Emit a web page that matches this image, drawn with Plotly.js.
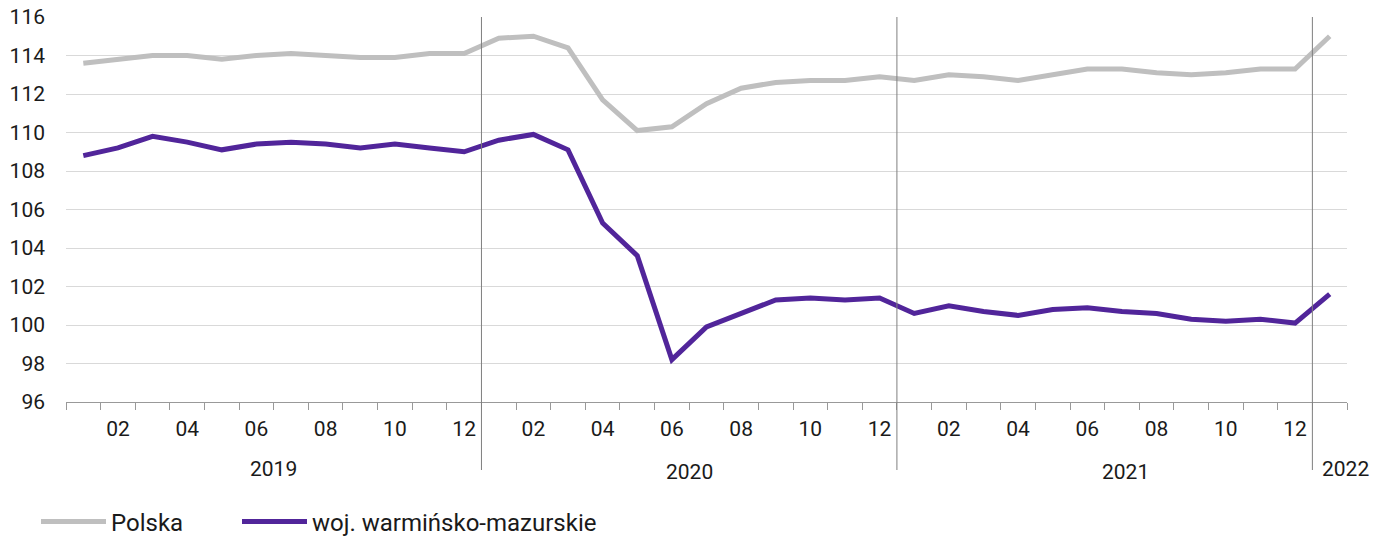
<!DOCTYPE html>
<html>
<head>
<meta charset="utf-8">
<script src="https://cdn.plot.ly/plotly-3.0.1.min.js"></script>
<style>
  html, body { margin: 0; padding: 0; background: #ffffff; }
  #chart { width: 1387px; height: 540px; }
</style>
</head>
<body>
<div id="chart"></div>
<script>
// ---- data ----
const months = [
  '2019-01','2019-02','2019-03','2019-04','2019-05','2019-06','2019-07','2019-08','2019-09','2019-10','2019-11','2019-12',
  '2020-01','2020-02','2020-03','2020-04','2020-05','2020-06','2020-07','2020-08','2020-09','2020-10','2020-11','2020-12',
  '2021-01','2021-02','2021-03','2021-04','2021-05','2021-06','2021-07','2021-08','2021-09','2021-10','2021-11','2021-12',
  '2022-01'
];
const polska = [
  113.6, 113.8, 114.0, 114.0, 113.8, 114.0, 114.1, 114.0, 113.9, 113.9, 114.1, 114.1,
  114.9, 115.0, 114.4, 111.7, 110.1, 110.3, 111.5, 112.3, 112.6, 112.7, 112.7, 112.9,
  112.7, 113.0, 112.9, 112.7, 113.0, 113.3, 113.3, 113.1, 113.0, 113.1, 113.3, 113.3,
  115.0
];
const warminskoMazurskie = [
  108.8, 109.2, 109.8, 109.5, 109.1, 109.4, 109.5, 109.4, 109.2, 109.4, 109.2, 109.0,
  109.6, 109.9, 109.1, 105.3, 103.6, 98.2, 99.9, 100.6, 101.3, 101.4, 101.3, 101.4,
  100.6, 101.0, 100.7, 100.5, 100.8, 100.9, 100.7, 100.6, 100.3, 100.2, 100.3, 100.1,
  101.6
];
const monthTickText = months.map(m => {
  const mm = m.slice(5);
  return (parseInt(mm, 10) % 2 === 0) ? mm : '';
});
const yearLabels = ['2019', '2020', '2021', '2022'];
const seriesNames = ['Polska', 'woj. warmińsko-mazurskie'];
const yTicks = [96, 98, 100, 102, 104, 106, 108, 110, 112, 114, 116];

// ---- layout helpers ----
const FONT = 'Roboto, "Noto Sans", sans-serif';
const TEXT = '#1a1a1a';
const plotH = 540 - 17 - 138;
function py(px) { return (402 - px) / plotH; }

// year label placement (category index, pixel y, anchor)
const yearPlace = [
  { x: 5.5,  y: 468.5, anchor: 'center' },
  { x: 17.5, y: 472,   anchor: 'center' },
  { x: 30.1, y: 472,   anchor: 'center' },
  { x: 35.72, y: 469,  anchor: 'left' }
];

const annotations = yearLabels.map((t, i) => ({
  text: t,
  x: yearPlace[i].x, xref: 'x',
  y: py(yearPlace[i].y), yref: 'paper',
  xanchor: yearPlace[i].anchor, yanchor: 'middle',
  showarrow: false,
  font: { family: FONT, size: 21, color: TEXT }
}));

// year separators at December/January boundaries
const sepIdx = [];
months.forEach((m, i) => { if (i > 0 && m.slice(5) === '01') sepIdx.push(i - 0.5); });
const shapes = sepIdx.map(x => ({
  type: 'line', xref: 'x', yref: 'paper',
  x0: x, x1: x, y0: py(470), y1: 1,
  line: { color: '#7f7f7f', width: 1 }
}));

const traces = [
  {
    x: months, y: polska, name: seriesNames[0],
    type: 'scatter', mode: 'lines',
    line: { color: '#bfbfbf', width: 5 },
    legend: 'legend',
    hoverinfo: 'skip'
  },
  {
    x: months, y: warminskoMazurskie, name: seriesNames[1],
    type: 'scatter', mode: 'lines',
    line: { color: '#51259a', width: 5 },
    legend: 'legend2',
    hoverinfo: 'skip'
  }
];

function legendAt(px) {
  return {
    orientation: 'h',
    xref: 'container', yref: 'container',
    x: px / 1387, xanchor: 'left',
    y: (540 - 522) / 540, yanchor: 'middle',
    font: { family: FONT, size: 24, color: TEXT },
    itemwidth: 65,
    bgcolor: 'rgba(0,0,0,0)'
  };
}

const layout = {
  width: 1387, height: 540,
  margin: { l: 66, r: 40, t: 17, b: 138, pad: 0, autoexpand: false },
  paper_bgcolor: '#ffffff', plot_bgcolor: '#ffffff',
  font: { family: FONT, size: 21, color: TEXT },
  showlegend: true,
  legend: legendAt(36),
  legend2: legendAt(237),
  xaxis: {
    type: 'category',
    categoryorder: 'array', categoryarray: months,
    range: [-0.5, months.length - 0.5],
    tickmode: 'array', tickvals: months, ticktext: monthTickText,
    tickson: 'boundaries',
    ticks: 'outside', ticklen: 7, tickcolor: '#999999', tickwidth: 1,
    showline: true, linecolor: '#999999', linewidth: 1,
    showgrid: false, zeroline: false,
    ticklabelstandoff: 8,
    tickfont: { family: FONT, size: 21, color: TEXT },
    fixedrange: true
  },
  yaxis: {
    range: [96, 116],
    tickmode: 'array', tickvals: yTicks,
    ticktext: yTicks.map(String),
    showgrid: true, gridcolor: '#d9d9d9', gridwidth: 1,
    zeroline: false, showline: false, ticks: '',
    ticklabelstandoff: 20,
    tickfont: { family: FONT, size: 21, color: TEXT },
    fixedrange: true
  },
  shapes: shapes,
  annotations: annotations
};

Plotly.newPlot('chart', traces, layout, { displayModeBar: false, staticPlot: true });
</script>
</body>
</html>
